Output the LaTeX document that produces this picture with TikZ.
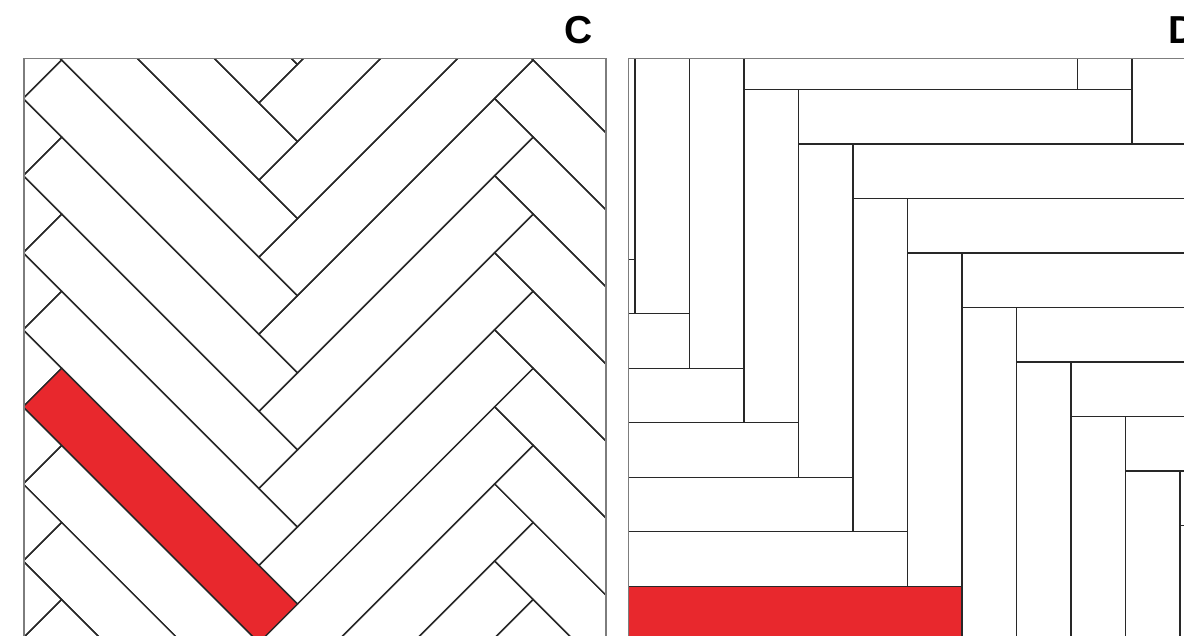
\documentclass[tikz,border=0pt]{standalone}
\usepackage{fontspec}
\setmainfont{Liberation Sans}
\definecolor{plankred}{RGB}{232,40,45}
\definecolor{seamgray}{RGB}{40,40,40}
\definecolor{boxgray}{RGB}{125,125,125}
\tikzset{
  plank/.style={draw=seamgray, line width=1.4pt},
  panelbox/.style={draw=boxgray, line width=1.4pt},
  panellabel/.style={font=\fontsize{39}{39}\selectfont\bfseries, inner sep=0pt, anchor=base}
}
\newcommand{\plankw}{54.5}
\newcommand{\plankl}{333.4}
% one herringbone field: a standing and a lying plank per step
\newcommand{\herringbone}{%
  \foreach \m in {-2,...,3}{
    \foreach \k in {-14,...,14}{
      \draw[plank] ({\k*\plankw+\m*\plankl},{\k*\plankw-\m*\plankl}) -- ++(\plankw,0) -- ++(0,\plankl) -- ++(-\plankw,0) -- cycle;
      \draw[plank] ({(\k+1)*\plankw+\m*\plankl},{\k*\plankw-\m*\plankl}) -- ++(\plankl,0) -- ++(0,\plankw) -- ++(-\plankl,0) -- cycle;
    }}}
\begin{document}
\begin{tikzpicture}[x={(1pt,0)}, y={(0,-1pt)}]
  \useasboundingbox (0,0) rectangle (1184,635);
  \clip (0,0) rectangle (1184,635);
  % C: field turned by 45 degrees
  \begin{scope}
    \clip (24,58.5) rectangle (606,640);
    \begin{scope}[shift={(23.16,329.76)}, x={(0.7071pt,-0.7071pt)}, y={(-0.7071pt,-0.7071pt)}]
      \herringbone
      \draw[plank, fill=plankred] (\plankw,0) -- ++(\plankl,0) -- ++(0,\plankw) -- ++(-\plankl,0) -- cycle;
    \end{scope}
  \end{scope}
  % D: straight field
  \begin{scope}
    \clip (628.3,58.3) rectangle (1210,640);
    \begin{scope}[shift={(744,89.3)}]
      \herringbone
      \draw[plank, fill=plankred] ({4*\plankw-\plankl},{3*\plankw+\plankl}) -- ++(\plankl,0) -- ++(0,\plankw) -- ++(-\plankl,0) -- cycle;
    \end{scope}
  \end{scope}
  \draw[panelbox] (24,58.5) rectangle (606,640);
  \draw[panelbox] (628.3,58.3) rectangle (1210,640);
  \node[panellabel] (labC) at (578.5,43) {C};
  \node[panellabel] (labD) at (1182.8,43) {D};
\end{tikzpicture}
\end{document}
